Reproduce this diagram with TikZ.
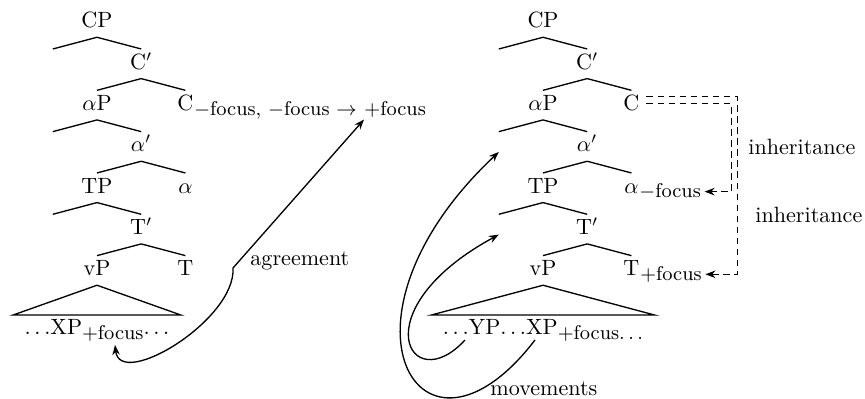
\documentclass[tikz,border=0pt]{standalone}
\usepackage{tikz}
\usetikzlibrary{arrows.meta, positioning}
\newcommand{\fsub}[1]{\raisebox{-2pt}{\small #1}}

\begin{document}
\begin{tikzpicture}[
  x=0.4525pt, y=-0.4525pt,
  >={Stealth[length=4.5pt, width=3.4pt]},
  cat/.style={inner sep=0pt, text height=9pt, text depth=4pt},
  feat/.style={anchor=base west, inner xsep=0pt, inner ysep=1pt},
  phrase/.style={inner xsep=5pt, inner ysep=2pt},
  lbl/.style={anchor=base west, inner sep=0pt},
  branch/.style={semithick},
  arrow/.style={semithick, ->},
  inherit/.style={arrow, dash pattern=on 3pt off 2pt},
  node distance=18.7pt and 20pt, on grid
]
\useasboundingbox (0,0) rectangle (865,399);

% left tree
\node[cat, anchor=base] (lCP) at (97,28) {CP};
\node[cat, below left=of lCP] (lspecC) {};
\node[cat, below right=of lCP] (lCbar) {C$'$};
\node[cat, below left=of lCbar] (laP) {$\alpha$P};
\node[cat, below right=of lCbar] (lC) {C};
\node[cat, below left=of laP] (lspecA) {};
\node[cat, below right=of laP] (labar) {$\alpha'$};
\node[cat, below left=of labar] (lTP) {TP};
\node[cat, below right=of labar] (la) {$\alpha$};
\node[cat, below left=of lTP] (lspecT) {};
\node[cat, below right=of lTP] (lTbar) {T$'$};
\node[cat, below left=of lTbar] (lvP) {vP};
\node[cat, below right=of lTbar] (lT) {T};
\node[phrase, below=29.2pt of lvP, anchor=base] (lXP) {$\ldots$XP\fsub{$+$focus}$\ldots$};
\node[feat] (lCsub) at (lC.base east) {\fsub{$-$focus, $-$focus $\rightarrow$}};
\node[feat] (lCplus) at ([xshift=3pt]lCsub.base east) {\fsub{$+$focus}};

\draw[branch] (lCP.south) -- (lspecC.north);
\draw[branch] (lCP.south) -- (lCbar.north);
\draw[branch] (lCbar.south) -- (laP.north);
\draw[branch] (lCbar.south) -- (lC.north);
\draw[branch] (laP.south) -- (lspecA.north);
\draw[branch] (laP.south) -- (labar.north);
\draw[branch] (labar.south) -- (lTP.north);
\draw[branch] (labar.south) -- (la.north);
\draw[branch] (lTP.south) -- (lspecT.north);
\draw[branch] (lTP.south) -- (lTbar.north);
\draw[branch] (lTbar.south) -- (lvP.north);
\draw[branch] (lTbar.south) -- (lT.north);
\draw[branch] (lXP.north west) -- (lvP.south) -- (lXP.north east) -- cycle;

% agreement
\coordinate (lfoc) at (115,345);
\coordinate (lkink) at (233,268);
\draw[arrow, <->] (lfoc) .. controls (120,390) and (236,320) .. (lkink) -- (lCplus.south west);
\node[lbl] (lagree) at (250,266) {agreement};

% right tree
\node[cat, anchor=base] (rCP) at (543,28) {CP};
\node[cat, below left=of rCP] (rspecC) {};
\node[cat, below right=of rCP] (rCbar) {C$'$};
\node[cat, below left=of rCbar] (raP) {$\alpha$P};
\node[cat, below right=of rCbar] (rC) {C};
\node[cat, below left=of raP] (rspecA) {};
\node[cat, below right=of raP] (rabar) {$\alpha'$};
\node[cat, below left=of rabar] (rTP) {TP};
\node[cat, below right=of rabar] (ra) {$\alpha$};
\node[cat, below left=of rTP] (rspecT) {};
\node[cat, below right=of rTP] (rTbar) {T$'$};
\node[cat, below left=of rTbar] (rvP) {vP};
\node[cat, below right=of rTbar] (rT) {T};
\node[phrase, below=29.2pt of rvP, anchor=base] (rXP) {$\ldots$YP$\ldots$XP\fsub{$+$focus$\ldots$}};
\node[feat] (rasub) at (ra.base east) {\fsub{$-$focus}};
\node[feat] (rTsub) at (rT.base east) {\fsub{$+$focus}};

\draw[branch] (rCP.south) -- (rspecC.north);
\draw[branch] (rCP.south) -- (rCbar.north);
\draw[branch] (rCbar.south) -- (raP.north);
\draw[branch] (rCbar.south) -- (rC.north);
\draw[branch] (raP.south) -- (rspecA.north);
\draw[branch] (raP.south) -- (rabar.north);
\draw[branch] (rabar.south) -- (rTP.north);
\draw[branch] (rabar.south) -- (ra.north);
\draw[branch] (rTP.south) -- (rspecT.north);
\draw[branch] (rTP.south) -- (rTbar.north);
\draw[branch] (rTbar.south) -- (rvP.north);
\draw[branch] (rTbar.south) -- (rT.north);
\draw[branch] (rXP.north west) -- (rvP.south) -- (rXP.north east) -- cycle;

% inheritance
\draw[inherit] ([xshift=3pt, yshift=3.8pt]rC.east) -- ++(91,0) |- ([xshift=1.5pt]rTsub.east);
\draw[inherit] ([xshift=3pt, yshift=0.7pt]rC.east) -- ++(85,0) |- ([xshift=1.5pt]rasub.east);
\node[lbl] (rinh1) at (748,155) {inheritance};
\node[lbl] (rinh2) at (755,223) {inheritance};

% movements
\coordinate (rYPfoot) at (465,340);
\coordinate (rXPfoot) at (535,340);
\draw[arrow] (rYPfoot) .. controls (410,400) and (360,310) .. (rspecT.base);
\draw[arrow] (rXPfoot) .. controls (420,490) and (320,320) .. (rspecA.base);
\node[lbl] (rmove) at (490,396) {movements};
\end{tikzpicture}
\end{document}
